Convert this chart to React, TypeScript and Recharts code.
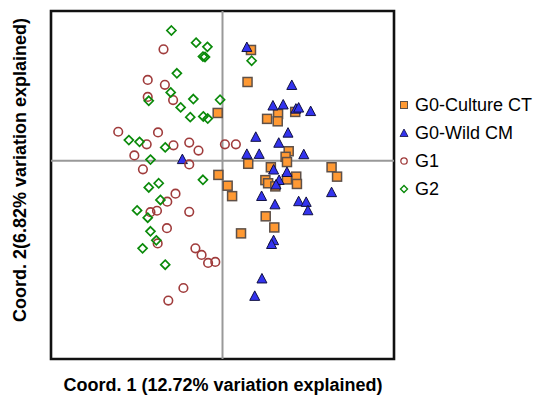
import React from 'react';
import {
  ScatterChart,
  Scatter,
  XAxis,
  YAxis,
  ReferenceLine,
  ReferenceArea,
  Legend,
} from 'recharts';

// PCoA coordinates (x = coord 1, y = coord 2)
const cultureCT: [number, number][] = [
  [8.3, 31.8], [7.3, 22.6], [-1.4, 13.7], [13.0, 12.0], [16.2, 13.4], [16.1, 11.3],
  [21.2, 14.0], [19.3, 2.7], [18.4, 1.1], [18.8, -0.4], [7.5, -0.9], [14.1, -1.9],
  [31.8, -1.9], [33.4, -4.6], [-1.2, -4.1], [21.5, -4.6], [18.8, -5.4], [12.5, -5.6],
  [1.5, -7.2], [2.8, -10.2], [13.3, -6.5], [15.4, -7.4], [21.7, -6.7], [12.6, -16.0],
  [15.1, -19.2], [5.4, -20.9],
];

const wildCM: [number, number][] = [
  [7.1, 32.5], [20.2, 21.6], [14.7, 15.7], [17.7, 16.0], [21.4, 14.8], [22.2, 15.1],
  [25.7, 14.1], [9.7, 6.7], [19.1, 7.9], [16.4, 5.0], [7.1, 1.8], [10.7, 1.8],
  [23.7, 1.7], [-11.7, 0.3], [14.9, -2.7], [18.8, -3.4], [16.5, -5.7], [15.6, -7.0],
  [11.4, -10.3], [15.3, -12.7], [22.2, -11.8], [24.4, -12.0], [24.9, -14.4], [31.8, -9.2],
  [14.9, -23.0], [14.3, -24.1], [11.5, -34.0], [9.4, -39.0],
];

const g1: [number, number][] = [
  [-17.2, 32.0], [-21.8, 23.2], [-16.8, 21.8], [-21.8, 18.3], [-14.4, 17.4], [-30.4, 8.3],
  [-18.8, 8.1], [-22.1, 4.7], [-14.3, 4.4], [-9.7, 5.2], [-7.0, 2.9], [0.7, 4.7],
  [3.9, 4.7], [-25.7, 1.5], [-9.7, -1.1], [-23.2, -2.5], [-13.7, -9.5], [-16.1, -11.8],
  [-21.0, -14.8], [-19.1, -14.4], [-9.7, -14.7], [-16.2, -19.4], [-18.9, -23.8], [-7.9, -25.2],
  [-6.1, -27.1], [-4.2, -29.4], [-2.1, -29.1], [-11.4, -36.6], [-15.8, -40.2],
];

const g2: [number, number][] = [
  [-14.9, 37.4], [-7.7, 33.9], [-4.4, 32.7], [-5.7, 29.9], [-5.1, 29.8], [-13.3, 25.1],
  [-15.1, 19.6], [-21.5, 17.2], [-8.5, 17.7], [-0.7, 17.5], [-12.2, 15.3], [-9.4, 12.5],
  [-5.6, 12.7], [-4.3, 12.1], [-27.3, 5.9], [-24.2, 5.4], [-16.7, 3.8], [-21.0, 0.3],
  [8.5, 28.7], [-18.6, -6.5], [-21.5, -7.7], [-5.7, -5.5], [-18.1, -11.3], [-24.9, -14.3],
  [-21.8, -16.4], [-21.0, -20.3], [-19.3, -22.9], [-23.3, -25.2], [-16.7, -29.9],
];

const seriesNames = ['G0-Culture CT', 'G0-Wild CM', 'G1', 'G2'];
const xLabel = 'Coord. 1 (12.72% variation explained)';
const yLabel = 'Coord. 2(6.82% variation explained)';

const X_DOMAIN: [number, number] = [-50, 50];
const Y_DOMAIN: [number, number] = [-57, 43];

const FONT = '"Liberation Sans", Arial, sans-serif';

const toPoints = (arr: [number, number][]) => arr.map(([x, y]) => ({ x, y }));

const Square = ({ cx, cy }: any) => (
  <rect x={cx - 4.5} y={cy - 4.5} width={9} height={9} fill="#FF9933" stroke="#5e5048" strokeWidth={1.5} />
);
const Triangle = ({ cx, cy }: any) => (
  <polygon
    points={`${cx},${cy - 5.5} ${cx + 5},${cy + 4} ${cx - 5},${cy + 4}`}
    fill="#3333EE"
    stroke="#101040"
    strokeWidth={1}
  />
);
const Ring = ({ cx, cy }: any) => (
  <circle cx={cx} cy={cy} r={4.3} fill="none" stroke="#A03C3C" strokeWidth={1.6} />
);
const Diamond = ({ cx, cy }: any) => (
  <polygon
    points={`${cx},${cy - 4.5} ${cx + 4.5},${cy} ${cx},${cy + 4.5} ${cx - 4.5},${cy}`}
    fill="none"
    stroke="#0A8A0A"
    strokeWidth={1.7}
  />
);

const legendIcons = [
  <rect key="a" x={1.5} y={2.5} width={7} height={7} fill="#FF9933" stroke="#5e5048" strokeWidth={1} />,
  <polygon key="b" points="5,2 9,9.5 1,9.5" fill="#3333EE" stroke="#101040" strokeWidth={0.8} />,
  <circle key="c" cx={5} cy={6} r={3.2} fill="none" stroke="#A03C3C" strokeWidth={1.3} />,
  <polygon key="d" points="5,2.5 8.5,6 5,9.5 1.5,6" fill="none" stroke="#0A8A0A" strokeWidth={1.4} />,
];

const renderLegend = () => (
  <div style={{ fontFamily: FONT, fontSize: 18, color: '#000' }}>
    {seriesNames.map((name, i) => (
      <div key={name} style={{ height: 28, display: 'flex', alignItems: 'center' }}>
        <svg width={12} height={12} style={{ marginRight: 4 }}>
          {legendIcons[i]}
        </svg>
        <span>{name}</span>
      </div>
    ))}
  </div>
);

const labelStyle: React.CSSProperties = {
  fontFamily: FONT,
  fontWeight: 'bold',
  fontSize: 18,
  fill: '#000',
};

export default function App() {
  return (
    <div style={{ position: 'absolute', left: 0, top: 0, width: 536, height: 398, background: '#fff' }}>
      <ScatterChart width={536} height={398} margin={{ top: 11, right: 142, bottom: 39, left: 51 }}>
        <XAxis
          type="number"
          dataKey="x"
          domain={X_DOMAIN}
          allowDataOverflow
          tick={false}
          tickLine={false}
          axisLine={false}
          height={0}
        />
        <YAxis
          type="number"
          dataKey="y"
          domain={Y_DOMAIN}
          allowDataOverflow
          tick={false}
          tickLine={false}
          axisLine={false}
          width={0}
        />
        <ReferenceLine x={0} stroke="#999" strokeWidth={2} />
        <ReferenceLine y={0} stroke="#999" strokeWidth={2} />
        <ReferenceArea
          x1={X_DOMAIN[0]}
          x2={X_DOMAIN[1]}
          y1={Y_DOMAIN[0]}
          y2={Y_DOMAIN[1]}
          fill="none"
          fillOpacity={0}
          stroke="#111"
          strokeWidth={2.6}
        />
        <Scatter name={seriesNames[0]} data={toPoints(cultureCT)} shape={Square} isAnimationActive={false} />
        <Scatter name={seriesNames[1]} data={toPoints(wildCM)} shape={Triangle} isAnimationActive={false} />
        <Scatter name={seriesNames[2]} data={toPoints(g1)} shape={Ring} isAnimationActive={false} />
        <Scatter name={seriesNames[3]} data={toPoints(g2)} shape={Diamond} isAnimationActive={false} />
        <Legend
          layout="horizontal"
          verticalAlign="middle"
          align="center"
          content={renderLegend}
          wrapperStyle={{ left: 399, top: 91, width: 137 }}
        />
      </ScatterChart>
      {/* axis titles */}
      <svg
        width={536}
        height={398}
        style={{ position: 'absolute', left: 0, top: 0, pointerEvents: 'none' }}
      >
        <text x={223} y={391} textAnchor="middle" style={labelStyle}>
          {xLabel}
        </text>
        <text x={26} y={170} textAnchor="middle" transform="rotate(-90 26 170)" style={labelStyle}>
          {yLabel}
        </text>
      </svg>
    </div>
  );
}
